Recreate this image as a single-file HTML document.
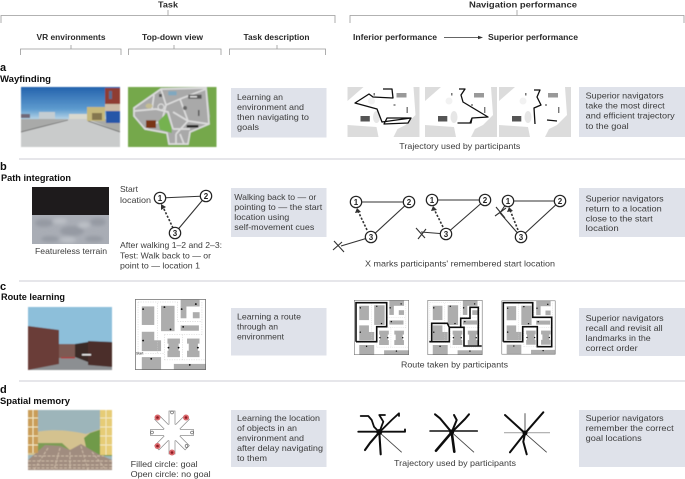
<!DOCTYPE html>
<html><head><meta charset="utf-8"><style>
html,body{margin:0;padding:0;background:#fff;width:685px;height:479px;overflow:hidden}
svg{display:block}
text{font-family:"Liberation Sans",sans-serif}
.h{font-size:8px;font-weight:bold;fill:#2a2a2a}
.l{font-size:9.5px;font-weight:bold;fill:#111}
.lb{font-size:11px;font-weight:bold;fill:#111}
.t{font-size:8.4px;fill:#3c3c3c}
.br{fill:none;stroke:#999;stroke-width:.8}
.sep{stroke:#ccced4;stroke-width:.9}
.n{fill:#fff;stroke:#222;stroke-width:1.2}
.nt{font-size:8px;font-weight:bold;fill:#222;text-anchor:middle}
.e{stroke:#333;stroke-width:1.1;fill:none}
.d{stroke:#333;stroke-width:1.6;fill:none;stroke-dasharray:2.2 1.6}
.r{fill:none;stroke:#111;stroke-width:1.6;stroke-linejoin:miter}
.tr{fill:none;stroke:#111;stroke-width:1.3;stroke-linejoin:round}
.s{fill:none;stroke:#111;stroke-linecap:round;stroke-linejoin:round}
</style></head><body>
<svg width="685" height="479" viewBox="0 0 685 479" xmlns="http://www.w3.org/2000/svg">
<defs>
<filter id="b1" x="-5%" y="-5%" width="110%" height="110%"><feGaussianBlur stdDeviation=".55"/></filter>
<filter id="b2" x="-5%" y="-5%" width="110%" height="110%"><feGaussianBlur stdDeviation="1.8"/></filter>
<filter id="b3" x="-5%" y="-5%" width="110%" height="110%"><feGaussianBlur stdDeviation=".3"/></filter>
<linearGradient id="sky" x1="0" y1="0" x2="0" y2="1"><stop offset="0" stop-color="#2463ad"/><stop offset=".7" stop-color="#5f9ccf"/><stop offset="1" stop-color="#b5d3e6"/></linearGradient>
<symbol id="tm" viewBox="0 0 72 50" width="72" height="50" overflow="hidden">
<rect width="72" height="50" fill="#dcdcdc"/>
<polygon points="0,14 16,0 66,0 68,28 58,38 50,42 46,50 31,50 29,40 0,38" fill="#fff"/>
<ellipse cx="29" cy="30" rx="3.500" ry="6" fill="#e6e6e6"/>
<ellipse cx="24" cy="14" rx="3.500" ry="3.500" fill="#f2f2f2"/>
<rect x="13" y="29" width="9.300" height="5.500" fill="#555"/>
<rect x="49" y="6" width="10" height="4.500" fill="#999"/>
<rect x="59" y="20" width="1.400" height="6" fill="#777"/>
<rect x="26" y="6" width="1.500" height="2.500" fill="#777"/>
<rect x="46" y="17" width="2" height="2" fill="#999"/>
</symbol>
<symbol id="rm" viewBox="0 0 70 70" overflow="hidden">
<rect width="70" height="70" fill="#fff"/>
<g fill="#adadad">
<rect x="6.700" y="7.300" width="12.300" height="18.300"/><rect x="25.700" y="6.700" width="13.300" height="25"/>
<rect x="45" y=".7" width="18.700" height="6.700"/><rect x="45" y="7" width="5.700" height="12"/>
<rect x="57" y="13" width="6.700" height="6"/><rect x="45" y="26" width="18" height="5.300"/>
<rect x="6.700" y="32.300" width="12.300" height="8.600"/><rect x="6.700" y="40.700" width="19" height="10.700"/>
<rect x="32" y="39" width="12.300" height="18.300"/><rect x="51.300" y="39" width="12.300" height="18.300"/>
<rect x="6.700" y="57.300" width="19" height="13"/><rect x="38.300" y="64" width="32" height="6.700"/>
</g>
<g fill="#fff"><rect x="30" y="44" width="3" height="7"/><rect x="43" y="44" width="3" height="7"/><rect x="50" y="44" width="3" height="7"/><rect x="62" y="44" width="3" height="7"/></g>
<path d="M3 3H42M3 3V54M22 4V54M42 3V22M42 22H66M66 3V36M29 35H66M29 35V60M47 35V60M3 54H29M29 60H70" fill="none" stroke="#ccc" stroke-width=".5" stroke-dasharray="1.200 1.200"/>
<g fill="#111">
<circle cx="8" cy="10" r=".9"/><circle cx="29" cy="8" r=".9"/><circle cx="46" cy="10" r=".9"/><circle cx="60" cy="5" r=".9"/>
<circle cx="35" cy="30" r=".9"/><circle cx="47.500" cy="27.500" r=".9"/><circle cx="8" cy="41" r=".9"/><circle cx="33" cy="48" r=".9"/>
<circle cx="43" cy="48" r=".9"/><circle cx="62" cy="48" r=".9"/><circle cx="16" cy="59" r=".9"/><circle cx="54" cy="65" r=".9"/>
</g>
<rect x=".4" y=".4" width="69.200" height="69.200" fill="none" stroke="#666" stroke-width=".7"/>
</symbol>
</defs>

<g filter="url(#b3)">
<path class="br" d="M1 23V15.500H335V23M168 10V15.500"/>
<path class="br" d="M20.500 55V49H121V55M71 45V49"/>
<path class="br" d="M128.500 55V49H221V55M174 45V49"/>
<path class="br" d="M229.500 55V49H325.500V55M277 45V49"/>
<path class="br" d="M350 23V15.500H684V23M517 10V15.500"/>
<line class="sep" x1="19" y1="159" x2="685" y2="159"/>
<line class="sep" x1="19" y1="281" x2="685" y2="281"/>
<line class="sep" x1="19" y1="381" x2="685" y2="381"/>

<text class="h" x="158" y="7.500" textLength="20" lengthAdjust="spacingAndGlyphs">Task</text>
<text class="h" x="469" y="7.500" textLength="108" lengthAdjust="spacingAndGlyphs">Navigation performance</text>
<text class="h" x="36.500" y="40" textLength="69" lengthAdjust="spacingAndGlyphs">VR environments</text>
<text class="h" x="142" y="40" textLength="61" lengthAdjust="spacingAndGlyphs">Top-down view</text>
<text class="h" x="243.500" y="40" textLength="66" lengthAdjust="spacingAndGlyphs">Task description</text>
<text class="h" x="353" y="40" textLength="84" lengthAdjust="spacingAndGlyphs">Inferior performance</text>
<text class="h" x="488" y="40" textLength="90" lengthAdjust="spacingAndGlyphs">Superior performance</text>
<line x1="444" y1="37.500" x2="479" y2="37.500" stroke="#333" stroke-width=".8"/>
<polygon points="483,37.500 478,35.700 478,39.300" fill="#333"/>

<text class="lb" x="0" y="71">a</text>
<text class="l" x="0" y="82" textLength="51" lengthAdjust="spacingAndGlyphs">Wayfinding</text>
<text class="lb" x="0" y="170">b</text>
<text class="l" x="1" y="181" textLength="70" lengthAdjust="spacingAndGlyphs">Path integration</text>
<text class="lb" x="0" y="290">c</text>
<text class="l" x="1" y="300" textLength="64" lengthAdjust="spacingAndGlyphs">Route learning</text>
<text class="lb" x="0" y="393">d</text>
<text class="l" x="0" y="404" textLength="70" lengthAdjust="spacingAndGlyphs">Spatial memory</text>

<g fill="#dfe2ea">
<rect x="231" y="88" width="95.500" height="49.500"/><rect x="579" y="87" width="106" height="50"/>
<rect x="231" y="188" width="95.500" height="49"/><rect x="579" y="188" width="106" height="49"/>
<rect x="231" y="308" width="95.500" height="47.500"/><rect x="579" y="308" width="106" height="48"/>
<rect x="231" y="410" width="95.500" height="57"/><rect x="579" y="410" width="106" height="57"/>
</g>

<g>
<text class="t" x="237" y="100" textLength="46" lengthAdjust="spacingAndGlyphs">Learning an</text>
<text class="t" x="237" y="110" textLength="67" lengthAdjust="spacingAndGlyphs">environment and</text>
<text class="t" x="237" y="120" textLength="72" lengthAdjust="spacingAndGlyphs">then navigating to</text>
<text class="t" x="237" y="130" textLength="22" lengthAdjust="spacingAndGlyphs">goals</text>
<text class="t" x="585.700" y="98.500" textLength="78" lengthAdjust="spacingAndGlyphs">Superior navigators</text>
<text class="t" x="585.700" y="108.500" textLength="79" lengthAdjust="spacingAndGlyphs">take the most direct</text>
<text class="t" x="585.700" y="118.500" textLength="89" lengthAdjust="spacingAndGlyphs">and efficient trajectory</text>
<text class="t" x="585.700" y="129" textLength="43" lengthAdjust="spacingAndGlyphs">to the goal</text>
<text class="t" x="399.300" y="149" textLength="121" lengthAdjust="spacingAndGlyphs">Trajectory used by participants</text>
<text class="t" x="120" y="192" textLength="18" lengthAdjust="spacingAndGlyphs">Start</text>
<text class="t" x="120" y="203" textLength="31" lengthAdjust="spacingAndGlyphs">location</text>
<text class="t" x="35" y="254" textLength="72" lengthAdjust="spacingAndGlyphs">Featureless terrain</text>
<text class="t" x="120" y="248" textLength="102" lengthAdjust="spacingAndGlyphs">After walking 1–2 and 2–3:</text>
<text class="t" x="120" y="258.500" textLength="91" lengthAdjust="spacingAndGlyphs">Test: Walk back to — or</text>
<text class="t" x="120" y="268.500" textLength="80" lengthAdjust="spacingAndGlyphs">point to — location 1</text>
<text class="t" x="234.300" y="200" textLength="82" lengthAdjust="spacingAndGlyphs">Walking back to — or</text>
<text class="t" x="234.300" y="210" textLength="88" lengthAdjust="spacingAndGlyphs">pointing to — the start</text>
<text class="t" x="234.300" y="220" textLength="55" lengthAdjust="spacingAndGlyphs">location using</text>
<text class="t" x="234.300" y="230" textLength="80" lengthAdjust="spacingAndGlyphs">self-movement cues</text>
<text class="t" x="585.700" y="201.500" textLength="78" lengthAdjust="spacingAndGlyphs">Superior navigators</text>
<text class="t" x="585.700" y="211.500" textLength="76" lengthAdjust="spacingAndGlyphs">return to a location</text>
<text class="t" x="585.700" y="221.500" textLength="67" lengthAdjust="spacingAndGlyphs">close to the start</text>
<text class="t" x="585.700" y="231" textLength="33" lengthAdjust="spacingAndGlyphs">location</text>
<text class="t" x="365" y="266.500" textLength="190" lengthAdjust="spacingAndGlyphs">X marks participants' remembered start location</text>
<text class="t" x="237" y="319.500" textLength="64" lengthAdjust="spacingAndGlyphs">Learning a route</text>
<text class="t" x="237" y="329.500" textLength="41" lengthAdjust="spacingAndGlyphs">through an</text>
<text class="t" x="237" y="339.500" textLength="47" lengthAdjust="spacingAndGlyphs">environment</text>
<text class="t" x="585.700" y="321" textLength="78" lengthAdjust="spacingAndGlyphs">Superior navigators</text>
<text class="t" x="585.700" y="331" textLength="77" lengthAdjust="spacingAndGlyphs">recall and revisit all</text>
<text class="t" x="585.700" y="341" textLength="65" lengthAdjust="spacingAndGlyphs">landmarks in the</text>
<text class="t" x="585.700" y="351" textLength="52" lengthAdjust="spacingAndGlyphs">correct order</text>
<text class="t" x="401" y="367.500" textLength="107" lengthAdjust="spacingAndGlyphs">Route taken by participants</text>
<text class="t" x="237" y="421" textLength="83" lengthAdjust="spacingAndGlyphs">Learning the location</text>
<text class="t" x="237" y="431" textLength="60" lengthAdjust="spacingAndGlyphs">of objects in an</text>
<text class="t" x="237" y="441" textLength="67" lengthAdjust="spacingAndGlyphs">environment and</text>
<text class="t" x="237" y="451" textLength="86" lengthAdjust="spacingAndGlyphs">after delay navigating</text>
<text class="t" x="237" y="461" textLength="30" lengthAdjust="spacingAndGlyphs">to them</text>
<text class="t" x="585.700" y="421" textLength="78" lengthAdjust="spacingAndGlyphs">Superior navigators</text>
<text class="t" x="585.700" y="431" textLength="88" lengthAdjust="spacingAndGlyphs">remember the correct</text>
<text class="t" x="585.700" y="441" textLength="56" lengthAdjust="spacingAndGlyphs">goal locations</text>
<text class="t" x="130.700" y="467" textLength="67" lengthAdjust="spacingAndGlyphs">Filled circle: goal</text>
<text class="t" x="130.700" y="477" textLength="80" lengthAdjust="spacingAndGlyphs">Open circle: no goal</text>
<text class="t" x="394" y="466" textLength="122" lengthAdjust="spacingAndGlyphs">Trajectory used by participants</text>
</g>
</g>

<!-- a: VR image -->
<svg x="21" y="87" width="99" height="60" viewBox="0 0 99 60" filter="url(#b1)">
<rect width="99" height="32" fill="url(#sky)"/>
<rect y="32" width="99" height="28" fill="#c9cbcb"/>
<polygon points="0,32 47,32 1,45 0,46" fill="#a9aaa9"/>
<polygon points="67,32 99,32 99,45" fill="#a9aaa6"/>
<line x1="0" y1="45" x2="47" y2="33" stroke="#666" stroke-width=".9"/>
<line x1="67" y1="34" x2="99" y2="45" stroke="#666" stroke-width=".9"/>
<rect x="0" y="27" width="9" height="4" fill="#6f6878"/>
<rect x="18" y="25" width="16" height="7" fill="#c4cdd2"/>
<rect x="48" y="27" width="18" height="5" fill="#d9d9cf"/>
<rect x="66" y="20" width="18" height="14" fill="#c6b97c"/>
<rect x="71" y="26" width="10" height="7" fill="#85774f"/>
<rect x="84" y="1" width="15" height="17" fill="#8f3c32"/>
<rect x="88" y="4" width="3" height="8" fill="#5a6c8f"/>
<rect x="84" y="17" width="15" height="7" fill="#cbbca6"/>
<rect x="85" y="24" width="14" height="12" fill="#2656a8"/>
</svg>

<!-- a: top-down -->
<svg x="128" y="87" width="88.500" height="60" viewBox="0 0 88.500 60" filter="url(#b1)">
<rect width="88.500" height="60" fill="#74a84c"/>
<polygon points="5.300,21 33.700,1 78.700,0 82,29.300 80.300,37.700 62,46 60.300,57.700 40.300,57.700 38.700,46 17,42.700 5.300,29.300" fill="#a9a9a9"/>
<g fill="none" stroke="#dcdcdc" stroke-width="1.700">
<path d="M6 21L33 2L78 1L81 37L62 45L60 57H41L39 46L17 42L6 29Z"/>
<path d="M6 24L28 22L40 25L45 42M33 2L38 18L34 34M38 18L52 12L78 2M52 12L60 34L81 37M45 25L60 34L48 47M48 47V57M52 47L56 57M45 42H62M26 8L24 22M30 35L17 42"/>
</g>
<polygon points="30.300,34.300 38.700,26 43.700,41 43.700,46 32,42.700" fill="#74b24f"/>
<rect x="18" y="33.300" width="10" height="7.700" fill="#7a3418"/>
<rect x="60.300" y="7.700" width="13.300" height="4" fill="#555"/>
<rect x="62" y="9" width="7" height="1.500" fill="#ddd"/>
<rect x="40.300" y="4.300" width="8.300" height="4" fill="#7fa8c0"/>
<rect x="58.700" y="38" width="11.700" height="2.600" fill="#222"/>
<rect x="31" y="7" width="3" height="3" fill="#555"/>
<circle cx="57" cy="21" r="2" fill="#666"/>
<rect x="70" y="23" width="1.500" height="6" fill="#555"/>
<ellipse cx="21" cy="19" rx="3.500" ry="2.500" fill="#c4bd94"/>
<circle cx="33" cy="20" r="3" fill="none" stroke="#ddd" stroke-width="1.200"/>
</svg>

<!-- a: trajectories -->
<g filter="url(#b3)">
<use href="#tm" x="347.500" y="87"/>
<use href="#tm" x="425" y="87"/>
<use href="#tm" x="499" y="87"/>
<polyline class="tr" points="383,89 392,89 393,98 373,97 369,94 355,103 377,109 382,122 411,118 408,123 384,124 387,118 411,118"/>
<polyline class="tr" points="459,89 465,89 461,95 463,102 488,117 472,118 470,123 458,123 471,123 472,118"/>
<polyline class="tr" points="534,90 540,90 537,97 541,105 534,108 535,124"/>
<polyline class="tr" points="547,120 557,121"/>
</g>

<!-- b: terrain image -->
<rect x="32" y="187" width="77" height="28.500" fill="#1e1b1c"/>
<svg x="32" y="215" width="77" height="29" viewBox="0 0 77 29">
<rect width="77" height="29" fill="#a9adb5"/>
<g filter="url(#b2)" fill="#959aa3">
<ellipse cx="12" cy="8" rx="9" ry="4"/><ellipse cx="40" cy="16" rx="12" ry="5"/><ellipse cx="66" cy="7" rx="8" ry="4"/><ellipse cx="18" cy="24" rx="9" ry="3"/><ellipse cx="62" cy="24" rx="9" ry="3"/>
</g>
<g filter="url(#b2)" fill="#bcc0c6"><ellipse cx="28" cy="6" rx="7" ry="3"/><ellipse cx="52" cy="10" rx="6" ry="3"/><ellipse cx="36" cy="25" rx="8" ry="3"/></g>
</svg>

<!-- b: triangles -->
<g filter="url(#b3)">
<line class="e" x1="160" y1="198" x2="206" y2="196"/><line class="e" x1="206" y1="196" x2="175" y2="233"/>
<line class="d" x1="173" y1="228" x2="163" y2="207"/><polygon points="161,204 166,207 161,210" fill="#333"/>
<circle class="n" cx="160" cy="198" r="5.700"/><circle class="n" cx="206" cy="196" r="5.700"/><circle class="n" cx="175" cy="233" r="5.700"/>
<text class="nt" x="160" y="201">1</text><text class="nt" x="206" y="199">2</text><text class="nt" x="175" y="236">3</text>

<line class="e" x1="356" y1="202" x2="409" y2="202"/><line class="e" x1="409" y1="202" x2="371" y2="237"/>
<line class="d" x1="367" y1="230" x2="358" y2="211"/><polygon points="357,208 361,212 355,213" fill="#333"/>
<line class="e" x1="371" y1="237" x2="341" y2="246"/>
<path class="e" d="M334 241L344 252M342 242L333 250"/>
<circle class="n" cx="356" cy="202" r="5.700"/><circle class="n" cx="409" cy="202" r="5.700"/><circle class="n" cx="371" cy="237" r="5.700"/>
<text class="nt" x="356" y="205">1</text><text class="nt" x="409" y="205">2</text><text class="nt" x="371" y="240">3</text>

<line class="e" x1="432" y1="200" x2="485" y2="200"/><line class="e" x1="485" y1="200" x2="446" y2="234"/>
<line class="d" x1="443" y1="227" x2="434" y2="209"/><polygon points="433,206 437,210 431,211" fill="#333"/>
<line class="e" x1="446" y1="234" x2="421" y2="232"/>
<path class="e" d="M416 228L425 238M426 229L418 239"/>
<circle class="n" cx="432" cy="200" r="5.700"/><circle class="n" cx="485" cy="200" r="5.700"/><circle class="n" cx="446" cy="234" r="5.700"/>
<text class="nt" x="432" y="203">1</text><text class="nt" x="485" y="203">2</text><text class="nt" x="446" y="237">3</text>

<line class="e" x1="508" y1="201" x2="560" y2="201"/><line class="e" x1="560" y1="201" x2="521" y2="237"/>
<line class="d" x1="518" y1="230" x2="510" y2="210"/><polygon points="509,207 513,211 507,212" fill="#333"/>
<path class="e" d="M521 237L500 213L508 201"/>
<path class="e" d="M496 207L505 218M506 208L495 216"/>
<circle class="n" cx="508" cy="201" r="5.700"/><circle class="n" cx="560" cy="201" r="5.700"/><circle class="n" cx="521" cy="237" r="5.700"/>
<text class="nt" x="508" y="204">1</text><text class="nt" x="560" y="204">2</text><text class="nt" x="521" y="240">3</text>
</g>

<!-- c: VR image -->
<svg x="28" y="307" width="84" height="63" viewBox="0 0 84 63" filter="url(#b1)">
<rect width="84" height="63" fill="#8dbfda"/>
<rect y="38" width="84" height="25" fill="#8c8f92"/>
<polygon points="0,19 31,23 31,57 0,63" fill="#6a3d38"/>
<rect x="31" y="37" width="16" height="14" fill="#7d5a52"/>
<polygon points="47,37 60,35 60,55 47,50" fill="#3a2a28"/>
<polygon points="60,34 84,35 84,60 60,58" fill="#4c2f2c"/>
<rect x="33" y="50" width="14" height="1.500" fill="#a84040"/>
<rect x="54" y="47" width="9" height="1.500" fill="#e8e8e8"/>
</svg>
<svg x="135" y="299" width="71" height="71" viewBox="0 0 70 70" filter="url(#b3)"><use href="#rm" width="70" height="70"/></svg>
<text x="136" y="354.500" font-size="3.500" fill="#222">Start</text>

<!-- c: route maps -->
<g filter="url(#b3)">
<svg x="354" y="300" width="55" height="55" viewBox="0 0 70 70"><use href="#rm" width="70" height="70"/></svg>
<svg x="427.500" y="300" width="55" height="55" viewBox="0 0 70 70"><use href="#rm" width="70" height="70"/></svg>
<svg x="501.500" y="300" width="54" height="55" viewBox="0 0 70 70"><use href="#rm" width="70" height="70"/></svg>
<polyline class="r" points="356,341.700 356,302.700 386.700,302.700 386.700,326.700 376.700,326.700 376.700,341.700 356,341.700"/>
<polyline class="r" points="429.300,341.700 431.700,341.700 431.700,323.300 447.300,323.300 449.300,327.300 464,327.300 464,346 481.700,346"/>
<polyline class="r" points="478.300,346 478.300,307.300 470,307.300 470,318.300 460.700,318.300 460.700,326.700"/>
<polyline class="r" points="431.700,341.700 449.300,341.700 449.300,327.300"/>
<polyline class="r" points="503.300,341.700 503.300,302.700 532.700,302.700 532.700,317.300 551.700,317.300 551.700,346.700 537.300,346.700 537.300,326.700 522.700,326.700 522.700,341.700 503.300,341.700"/>
</g>

<!-- d: VR image -->
<svg x="28" y="410" width="84" height="60" viewBox="0 0 84 60" filter="url(#b1)">
<rect width="84" height="60" fill="#9db5ba"/>
<path d="M0 24C20 18 40 20 58 24L72 19L84 22V45H0Z" fill="#d4c28f"/>
<path d="M56 28L62 23L74 19L84 22V46H60Z" fill="#6f9a4a"/>
<path d="M8 33H34L44 42L30 46H8Z" fill="#7d9d55"/>
<polygon points="0,50 17,35 32,36 42,40 53,34 70,44 84,50 84,60 0,60" fill="#a08c7f"/>
<g stroke="#cdbba8" stroke-width="1" stroke-dasharray="3 1.500" fill="none"><path d="M6 46H76M0 51H84M0 55H84M0 58H84M20 38L6 60M32 38L26 60M42 42V60M53 36L60 60M64 42L78 60"/></g>
<rect x="0" y="0" width="10" height="43" fill="#c99d58"/>
<rect x="72" y="0" width="12" height="45" fill="#e6cc76"/>
<g stroke="#f3e8c2" stroke-width="1" fill="none"><path d="M0 8H10M0 17H10M0 26H10M0 35H10M72 8H84M72 17H84M72 26H84M72 35H84M5 0V43M78 0V45"/></g>
</svg>

<!-- d: radial maze -->
<g transform="translate(172 432.500)" filter="url(#b3)">
<g fill="#fff" stroke="#888" stroke-width=".7">
<rect x="-3" y="-21.500" width="6" height="21.500"/>
<rect x="-3" y="-21.500" width="6" height="21.500" transform="rotate(45)"/>
<rect x="-3" y="-21.500" width="6" height="21.500" transform="rotate(90)"/>
<rect x="-3" y="-21.500" width="6" height="21.500" transform="rotate(135)"/>
<rect x="-3" y="-21.500" width="6" height="21.500" transform="rotate(180)"/>
<rect x="-3" y="-21.500" width="6" height="21.500" transform="rotate(225)"/>
<rect x="-3" y="-21.500" width="6" height="21.500" transform="rotate(270)"/>
<rect x="-3" y="-21.500" width="6" height="21.500" transform="rotate(315)"/>
</g>
<circle r="8.500" fill="#fff"/>
<g fill="#d9686c"><circle cx="-14.500" cy="-15" r="3"/><circle cx="14" cy="-15" r="3"/><circle cx="-14.500" cy="13.500" r="3"/><circle cx="0" cy="20" r="3"/></g>
<g fill="#8e1b22"><circle cx="-14.500" cy="-15" r="1.300"/><circle cx="14" cy="-15" r="1.300"/><circle cx="-14.500" cy="13.500" r="1.300"/><circle cx="0" cy="20" r="1.300"/></g>
<g fill="#fff" stroke="#555" stroke-width=".6"><circle cx="0" cy="-20" r="1.400"/><circle cx="20" cy="0" r="1.400"/><circle cx="-20" cy="0" r="1.400"/><circle cx="14.500" cy="13.500" r="1.400"/></g>
</g>

<!-- d: trajectory stars -->
<g filter="url(#b3)">
<path d="M379.300 432.300L401.700 452.300" fill="none" stroke="#444" stroke-width=".9"/>
<path class="s" stroke-width="1.900" d="M358.300 431.700H405V429.500"/>
<path class="s" stroke-width="2.100" d="M379.300 432.300L380.700 454.300M379.300 432.300L370 443L365 450"/>
<path class="s" stroke-width="1.800" d="M379.300 432.300L374 426.700L371.700 420L368.300 416L360.700 416M379.300 432.300L383.300 421.700L379.300 415L385 415M379.300 432.300L391.700 420L399 413.300L399 416"/>
<path d="M451.700 432.300L474 452.300" fill="none" stroke="#444" stroke-width=".9"/>
<path class="s" stroke-width="1.500" d="M430 431H477.300"/>
<path class="s" stroke-width="2.600" d="M451.700 432.300L454.300 451.700M451.700 432.300L436 450.700"/>
<path class="s" stroke-width="2" d="M451.700 432.300L440 418.300L435 414.300M451.700 432.300L456.700 420L454 415M451.700 432.300L465 419L469 414.300"/>
<path d="M504 432.700H550" fill="none" stroke="#aaa" stroke-width="1.100"/>
<path d="M525 413.300V433.300L546.700 452.300" fill="none" stroke="#444" stroke-width=".9"/>
<path class="s" stroke-width="2" d="M525 433.300L505 415M525 433.300L543.300 412.300M525 433.300L510 452.300M525 433.300L523.300 441.700L526.700 454.300"/>
<circle cx="379.300" cy="432" r="3" fill="#111"/><circle cx="451.700" cy="432" r="2.500" fill="#111"/><circle cx="525" cy="433" r="2.500" fill="#111"/>
</g>
</svg>
</body></html>
